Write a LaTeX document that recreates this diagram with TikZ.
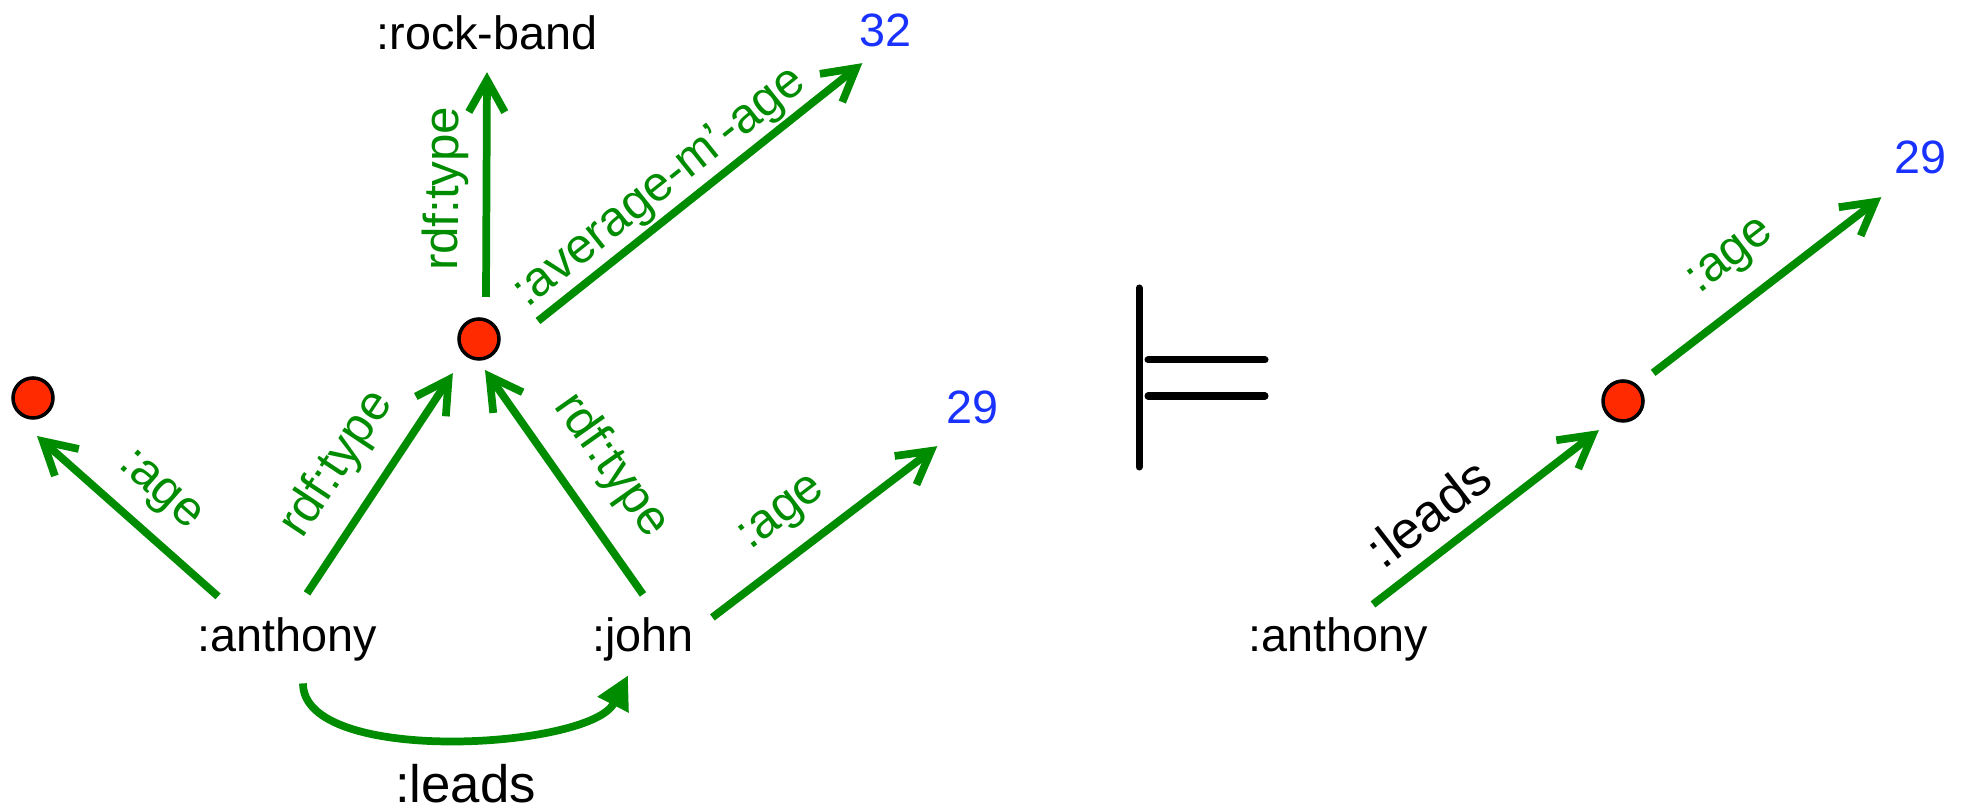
\documentclass[tikz,border=0pt]{standalone}
\usepackage{fontspec}
\setmainfont{Liberation Sans}
\usetikzlibrary{arrows.meta}

\definecolor{rdfgreen}{RGB}{0,140,0}
\definecolor{bnodered}{RGB}{255,42,0}
\definecolor{litblue}{RGB}{25,50,255}

\tikzset{
    res/.style={inner sep=0pt, anchor=base, font=\fontsize{13.3}{16}\selectfont},
    lit/.style={res, text=litblue},
    bnode/.style={circle, draw=black, fill=bnodered, line width=1pt, minimum size=4mm, inner sep=0pt, outer sep=0pt},
    edge/.style={draw=rdfgreen, line width=2.2pt, -{Straight Barb[length=3.2mm,width=3.6mm]}},
    leadsto/.style={edge, -{Triangle[length=3.3mm,width=3.3mm]}},
    lbl/.style={text=rdfgreen, inner sep=0pt, outer sep=0pt, sloped, font=\fontsize{14}{17}\selectfont},
    bigl/.style={inner sep=0pt, outer sep=0pt, font=\fontsize{15}{18}\selectfont},
}

\begin{document}
\begin{tikzpicture}
    \useasboundingbox (0,0) rectangle (19.66,8.09);

    % left graph
    \node[res] (anthony) at (2.87,1.57) {:anthony};
    \node[res] (john) at (6.43,1.57) {:john};
    \node[res] (rockband) at (4.87,7.59) {:rock-band};
    \node[lit] (avg) at (8.85,7.62) {32};
    \node[lit] (age) at (9.72,3.85) {29};
    \node[bnode] (b0) at (0.33,4.11) {};
    \node[bnode] (b1) at (4.79,4.70) {};

    \draw[edge] ([xshift=-6.9mm,yshift=2.1mm]anthony.north) -- ([xshift=0.4mm,yshift=-1.8mm]b0.south)
        node[lbl,pos=0.47,above=2mm] {:age};
    \draw[edge] ([xshift=2mm,yshift=2.4mm]anthony.north) -- ([xshift=-1.2mm,yshift=-2mm]b1.south west)
        node[lbl,pos=0.47,above=2.3mm] {rdf:type};
    \draw[edge] ([yshift=2.3mm]john.north) -- ([xshift=0.6mm,yshift=-1.1mm]b1.south)
        node[lbl,pos=0.45,above=2.5mm] {rdf:type};
    \draw[edge] ([xshift=1.8mm]john.north east) -- ([xshift=-0.8mm,yshift=-2.1mm]age.south west)
        node[lbl,pos=0.42,above=2mm] {:age};
    \draw[edge] ([xshift=0.7mm,yshift=2.2mm]b1.north) -- ([yshift=-2.1mm]rockband.south)
        node[lbl,pos=0.48,above=1.8mm] {rdf:type};
    \draw[edge] ([xshift=3.9mm,yshift=1.8mm]b1.east) -- ([xshift=0.4mm,yshift=-1.5mm]avg.south west)
        node[lbl,pos=0.43,above=0.6mm] {:average-m’-age};
    \draw[leadsto] ([xshift=1.6mm,yshift=-2.1mm]anthony.south)
        to[out=-90,in=-117,looseness=0.65] node[bigl,midway,below=2.6mm,xshift=1.4mm] {:leads}
        ([xshift=-1.5mm,yshift=-1.3mm]john.south);

    % entails
    \draw[line width=2pt, line cap=round] (11.39,5.21) -- (11.39,3.42);
    \draw[line width=2pt, line cap=round] (11.48,4.49) -- (12.65,4.49) (11.48,4.13) -- (12.65,4.13);

    % right graph
    \node[res] (ranthony) at (13.38,1.57) {:anthony};
    \node[bnode] (b2) at (16.23,4.08) {};
    \node[lit] (rage) at (19.20,6.35) {29};

    \draw[edge] ([xshift=3.5mm,yshift=1.3mm]ranthony.north) -- ([xshift=-1mm,yshift=-1.5mm]b2.south west)
        node[bigl,sloped,pos=0.35,above=2mm] {:leads};
    \draw[edge] ([xshift=1.6mm,yshift=1.4mm]b2.north east) -- ([xshift=-1.2mm,yshift=-2.2mm]rage.south west)
        node[lbl,pos=0.46,above=2.4mm] {:age};
\end{tikzpicture}
\end{document}
